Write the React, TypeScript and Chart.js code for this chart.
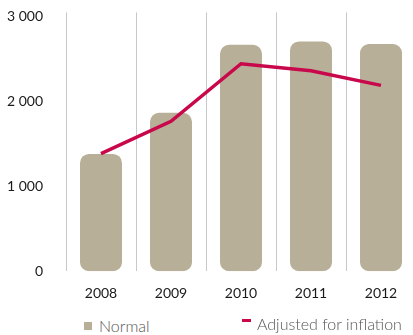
import React, { useEffect, useRef } from "react";
import { Chart, registerables } from "chart.js";

Chart.register(...registerables);

const categories = ["2008", "2009", "2010", "2011", "2012"];
const normalValues = [1380, 1865, 2665, 2705, 2675];
const adjustedValues = [1385, 1765, 2443, 2361, 2188];
const yTickValues = [0, 1000, 2000, 3000];

const BAR_COLOR = "#b7af97";
const LINE_COLOR = "#c8084b";
const FONT = "Lato, 'Open Sans', sans-serif";

function fmt(v: number): string {
  const s = Math.round(v).toString();
  return s.replace(/\B(?=(\d{3})+(?!\d))/g, " ");
}

export default function App() {
  const ref = useRef<HTMLCanvasElement | null>(null);

  useEffect(() => {
    if (!ref.current) return;
    const chart = new Chart(ref.current, {
      data: {
        labels: categories,
        datasets: [
          {
            type: "line",
            label: "Adjusted for inflation",
            data: adjustedValues,
            borderColor: LINE_COLOR,
            backgroundColor: LINE_COLOR,
            borderWidth: 3.5,
            pointRadius: 0,
            tension: 0,
            order: 0,
          },
          {
            type: "bar",
            label: "Normal",
            data: normalValues,
            backgroundColor: BAR_COLOR,
            borderWidth: 0,
            borderRadius: 9,
            borderSkipped: false,
            categoryPercentage: 1,
            barPercentage: 0.6,
            order: 1,
          },
        ],
      },
      options: {
        animation: false,
        responsive: false,
        maintainAspectRatio: false,
        layout: { padding: { left: 0, right: 0, top: 0, bottom: 0 } },
        plugins: {
          legend: { display: false },
          tooltip: { enabled: false },
        },
        scales: {
          x: {
            offset: true,
            grid: {
              display: true,
              offset: true,
              color: "#c8c8c8",
              lineWidth: 1,
              drawTicks: false,
            },
            border: { display: false },
            ticks: {
              color: "#1a1a1a",
              font: { family: FONT, size: 14 },
              padding: 14,
            },
          },
          y: {
            min: 0,
            max: 3047,
            afterBuildTicks: (scale: any) => {
              scale.ticks = yTickValues.map((v) => ({ value: v }));
            },
            afterFit: (scale: any) => {
              scale.width = 66;
            },
            grid: { display: false, drawTicks: false },
            border: { display: false },
            ticks: {
              color: "#1a1a1a",
              font: { family: FONT, size: 14 },
              padding: 23,
              callback: (v: any) => fmt(Number(v)),
            },
          },
        },
      },
    } as any);
    return () => chart.destroy();
  }, []);

  return (
    <div
      style={{
        position: "fixed",
        left: 0,
        top: 0,
        width: 413,
        height: 335,
        overflow: "hidden",
        background: "#fff",
      }}
    >
      <canvas
        ref={ref}
        width={416}
        height={335}
        style={{ display: "block", position: "absolute", left: 0, top: -19 }}
      />
      <div
        style={{
          position: "absolute",
          left: 84,
          top: 316,
          display: "flex",
          alignItems: "center",
          fontFamily: FONT,
          fontSize: 16,
          fontWeight: 300,
          color: "#555",
          whiteSpace: "nowrap",
        }}
      >
        <span style={{ display: "inline-block", width: 8, height: 8, background: BAR_COLOR, marginRight: 7 }} />
        <span>Normal</span>
      </div>
      <div
        style={{
          position: "absolute",
          left: 242,
          top: 314,
          display: "flex",
          alignItems: "center",
          fontFamily: FONT,
          fontSize: 16,
          fontWeight: 300,
          color: "#555",
          whiteSpace: "nowrap",
        }}
      >
        <span style={{ display: "inline-block", width: 9, height: 3, background: LINE_COLOR, marginRight: 6, marginTop: -6 }} />
        <span>Adjusted for inflation</span>
      </div>
    </div>
  );
}
